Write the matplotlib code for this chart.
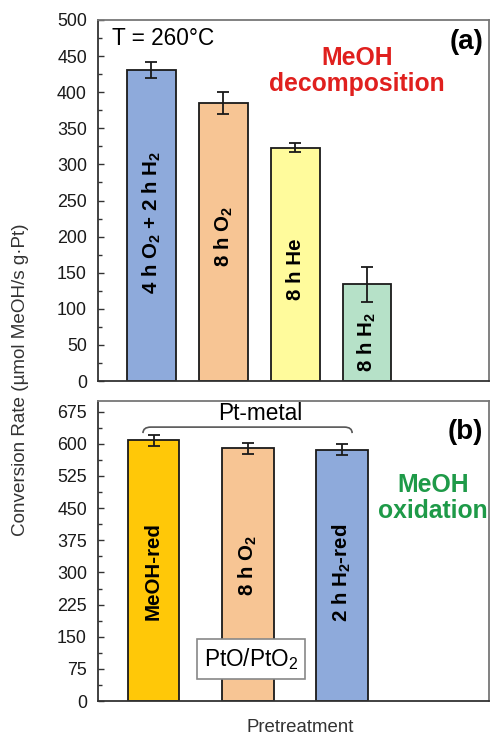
"""Conversion rate of Pt catalyst after different pretreatments."""

import matplotlib
matplotlib.use("Agg")
import matplotlib.pyplot as plt
from matplotlib.path import Path
from matplotlib.patches import PathPatch
from matplotlib.ticker import MultipleLocator

plt.rcParams['font.family'] = ['Liberation Sans', 'DejaVu Sans']
plt.rcParams['mathtext.fontset'] = 'custom'
plt.rcParams['mathtext.rm'] = 'Liberation Sans'
plt.rcParams['mathtext.bf'] = 'Liberation Sans:bold'

# (a) MeOH decomposition
decomp_labels = [r"4 h O$_\mathbf{2}$ + 2 h H$_\mathbf{2}$", r"8 h O$_\mathbf{2}$",
                 "8 h He", r"8 h H$_\mathbf{2}$"]
decomp_rate = [431, 385, 323, 134]
decomp_err = [11, 15, 6, 24]
decomp_colors = ['#8eaadb', '#f7c594', '#fffb9c', '#b6e1c8']

# (b) MeOH oxidation
oxid_labels = ["MeOH-red", r"8 h O$_\mathbf{2}$", r"2 h H$_\mathbf{2}$-red"]
oxid_rate = [608, 590, 586]
oxid_err = [13, 13, 13]
oxid_colors = ['#ffc808', '#f7c594', '#8eaadb']

W, H = 491, 735
fig = plt.figure(figsize=(W / 100, H / 100), dpi=100)
ax_a = fig.add_axes([98 / W, 1 - 381 / H, 391 / W, 361 / H])
ax_b = fig.add_axes([98 / W, 1 - 701 / H, 391 / W, 300 / H])


def style_axis(ax, major, minor, top):
    ax.set_ylim(0, top)
    ax.yaxis.set_major_locator(MultipleLocator(major))
    ax.yaxis.set_minor_locator(MultipleLocator(minor))
    ax.tick_params(axis='y', which='major', direction='in', length=4,
                   width=1, pad=8, labelsize=12.9, colors='#333333',
                   labelcolor='#1a1a1a')
    ax.tick_params(axis='y', which='minor', direction='in', length=3,
                   width=1, colors='#333333')
    ax.set_xticks([])
    for side in ['left', 'bottom']:
        ax.spines[side].set_color('#333333')
        ax.spines[side].set_linewidth(1.3)
    for side in ['top', 'right']:
        ax.spines[side].set_color('#777777')
        ax.spines[side].set_linewidth(1.3)


def draw_bars(ax, labels, rate, err, colors, width, label_frac):
    x = list(range(1, len(rate) + 1))
    ax.bar(x, rate, width=width, color=colors, edgecolor='#1a1a1a',
           linewidth=1.3, zorder=2)
    ax.errorbar(x, rate, yerr=err, fmt='none', ecolor='#1a1a1a',
                elinewidth=1.3, capsize=4.5, capthick=1.3, zorder=3)
    for xi, r, lab, f in zip(x, rate, labels, label_frac):
        ax.text(xi, r * f, lab, rotation=90, ha='center', va='center',
                fontsize=14.8, fontweight='bold', zorder=4)


# panel (a)
style_axis(ax_a, 50, 25, 500)
ax_a.set_xlim(0.255, 5.70)
draw_bars(ax_a, decomp_labels, decomp_rate, decomp_err, decomp_colors,
          0.68, [0.51, 0.52, 0.48, 0.40])
ax_a.text(0.036, 0.95, "T = 260°C", transform=ax_a.transAxes,
          ha='left', va='center', fontsize=16.3)
ax_a.text(0.985, 0.94, "(a)", transform=ax_a.transAxes, ha='right',
          va='center', fontsize=20, fontweight='bold')
ax_a.text(0.662, 0.859, "MeOH\ndecomposition", transform=ax_a.transAxes,
          ha='center', va='center', fontsize=17.8, fontweight='bold',
          color='#e0201e', linespacing=1.1)

# panel (b)
style_axis(ax_b, 75, 37.5, 700)
ax_b.set_xlim(0.411, 4.56)
draw_bars(ax_b, oxid_labels, oxid_rate, oxid_err, oxid_colors,
          0.55, [0.50, 0.535, 0.51])
ax_b.text(0.985, 0.897, "(b)", transform=ax_b.transAxes, ha='right',
          va='center', fontsize=20, fontweight='bold')
ax_b.text(0.857, 0.677, "MeOH\noxidation", transform=ax_b.transAxes,
          ha='center', va='center', fontsize=17.8, fontweight='bold',
          color='#1e9a48', linespacing=1.1)
ax_b.text(0.414, 0.96, "Pt-metal", transform=ax_b.transAxes,
          ha='center', va='center', fontsize=16.3)
ax_b.text(0.391, 0.14, r"PtO/PtO$_2$", transform=ax_b.transAxes,
          ha='center', va='center', fontsize=16.3, zorder=5,
          bbox=dict(boxstyle='square,pad=0.3', facecolor='white',
                    edgecolor='#888888', linewidth=1.2))

# bracket over the Pt-metal bars
x0, x1, y0, y1 = 0.115, 0.65, 0.893, 0.913
verts = [(x0, y0), (x0, y1), (x0 + 0.02, y1), (x1 - 0.02, y1),
         (x1, y1), (x1, y0)]
codes = [Path.MOVETO, Path.CURVE3, Path.CURVE3, Path.LINETO,
         Path.CURVE3, Path.CURVE3]
ax_b.add_patch(PathPatch(Path(verts, codes), transform=ax_b.transAxes,
                         facecolor='none', edgecolor='#555555',
                         linewidth=1.2, zorder=5))

fig.text(21 / W, 1 - 380 / H, "Conversion Rate (µmol MeOH/s g·Pt)",
         rotation=90, ha='center', va='center', fontsize=13.6,
         color='#333333')
fig.text(300 / W, 1 - 727 / H, "Pretreatment", ha='center', va='center',
         fontsize=13.4, color='#333333')

fig.savefig("out.png", dpi=100)
